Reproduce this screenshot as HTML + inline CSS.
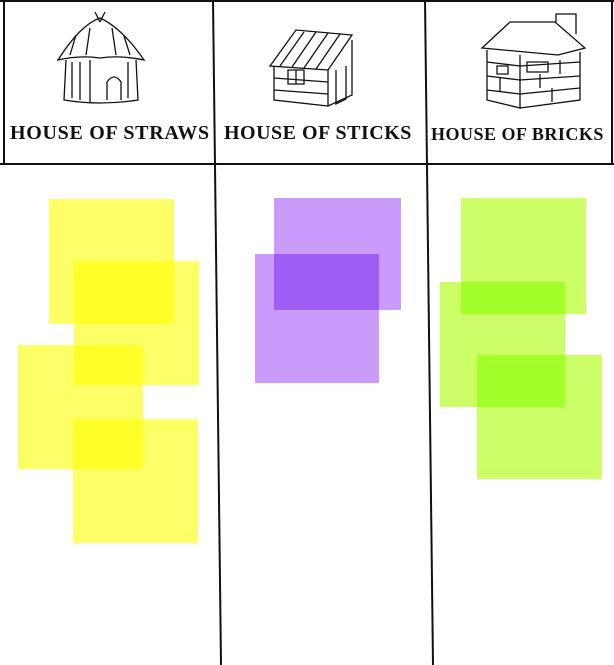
<!DOCTYPE html>
<html><head><meta charset="utf-8"><style>
html,body{margin:0;padding:0;background:#fff;}
#board{position:relative;width:614px;height:665px;overflow:hidden;background:#fff;isolation:isolate;}
svg{position:absolute;left:0;top:0;}
.title{position:absolute;top:122px;font-family:"Liberation Serif",serif;font-weight:bold;font-size:20px;color:#111;white-space:nowrap;}
.note{position:absolute;mix-blend-mode:multiply;}
.y{background:#ffff66;}
.p{background:#c99bfa;}
.g{background:#ccff66;}
</style></head><body>
<div id="board">
<svg width="614" height="665">
 <g stroke="#111" stroke-width="2" fill="none">
  <line x1="0" y1="1" x2="614" y2="1"/>
  <line x1="4" y1="0" x2="4" y2="164"/>
  <line x1="0" y1="164" x2="614" y2="164"/>
  <line x1="213" y1="0" x2="221" y2="665"/>
  <line x1="425" y1="0" x2="433" y2="665"/>
  <line x1="612" y1="0" x2="612" y2="164"/>
 </g>
 <g stroke="#111" stroke-width="1.3" fill="none">
  <path d="M58,60 Q80,25 100,18 Q122,28 144,60 Q120,55 100,58 Q80,55 58,60Z"/>
  <path d="M66,60 L64,100 Q100,106 138,100 L136,60"/>
  <path d="M107,100 L107,82 Q114,72 121,82 L121,100"/>
  <path d="M72,62 L72,98 M80,62 L80,100 M90,60 L90,102 M128,62 L128,98 M100,22 L95,12 M100,22 L105,12"/>
  <path d="M76,35 L70,55 M90,28 L86,55 M112,28 L116,55 M124,36 L130,55"/>
 </g>
 <g stroke="#111" stroke-width="1.3" fill="none">
  <path d="M270,66 L296,30 L352,35 L328,70 Z"/>
  <path d="M274,66 L274,100 L328,106 L328,70 M328,106 L352,95 L352,40"/>
  <path d="M288,70 L288,84 L304,84 L304,70 Z M296,70 L296,84"/>
  <path d="M336,70 L336,104 L346,99 L346,66"/>
  <path d="M280,66 L304,32 M292,67 L316,32 M304,68 L328,33 M316,69 L340,34"/>
  <path d="M274,78 L328,82 M274,90 L328,94"/>
 </g>
 <g stroke="#111" stroke-width="1.3" fill="none">
  <path d="M482,48 L510,22 L555,22 L585,48 L558,55 Z"/>
  <path d="M556,22 L556,14 L576,14 L576,34"/>
  <path d="M487,50 L487,100 L520,108 L520,55 M520,108 L580,100 L580,52"/>
  <path d="M497,66 L508,66 L508,74 L497,74Z M527,62 L548,62 L548,72 L527,72Z"/>
  <path d="M487,62 L520,66 M487,76 L520,80 M487,90 L520,94 M520,66 L580,62 M520,80 L580,76 M520,94 L580,88"/>
  <path d="M500,78 L500,92 M540,74 L540,88 M560,60 L560,74 M552,88 L552,102"/>
 </g>
</svg>
<div class="title" style="left:10px;letter-spacing:0.7px">HOUSE OF STRAWS</div>
<div class="title" style="left:224px;letter-spacing:0.5px">HOUSE OF STICKS</div>
<div class="title" style="left:431px;font-size:18px;top:124px;letter-spacing:0.5px">HOUSE OF BRICKS</div>

<div class="note y" style="left:49px;top:199px;width:125px;height:125px"></div>
<div class="note y" style="left:74px;top:261px;width:125px;height:124px"></div>
<div class="note y" style="left:18px;top:345px;width:125px;height:124px"></div>
<div class="note y" style="left:73px;top:419px;width:125px;height:124px"></div>

<div class="note p" style="left:274px;top:198px;width:127px;height:112px"></div>
<div class="note p" style="left:255px;top:254px;width:124px;height:129px"></div>

<div class="note g" style="left:461px;top:198px;width:125px;height:116px"></div>
<div class="note g" style="left:440px;top:282px;width:125px;height:125px"></div>
<div class="note g" style="left:477px;top:355px;width:125px;height:124px"></div>
</div>
</body></html>
